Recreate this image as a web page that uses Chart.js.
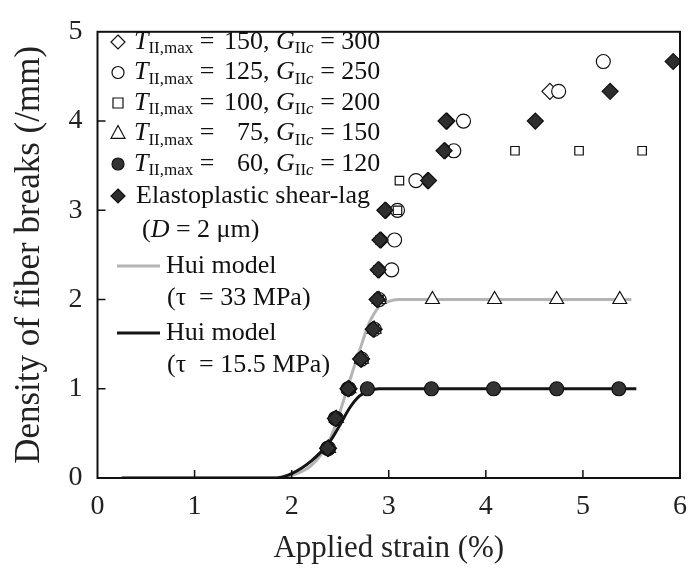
<!DOCTYPE html>
<html>
<head>
<meta charset="utf-8">
<script src="https://cdn.jsdelivr.net/npm/chart.js@4.4.0/dist/chart.umd.min.js"></script>
<style>
  html, body { margin: 0; padding: 0; background: #fff; }
</style>
</head>
<body>
<canvas id="chart" width="699" height="575"></canvas>
<script>
// tick labels
const xTicks = [0, 1, 2, 3, 4, 5, 6];
const yTicks = [0, 1, 2, 3, 4, 5];

// Elastoplastic shear-lag (D = 2 um)
const epStrain = [2.37, 2.45, 2.58, 2.71, 2.84, 2.88, 2.89, 2.91, 2.96, 3.41, 3.57, 3.59, 4.51, 5.28, 5.93];
const epDens   = [0.333, 0.667, 1, 1.333, 1.667, 2, 2.333, 2.667, 3, 3.333, 3.667, 4, 4, 4.333, 4.667];

// T = 150, G = 300 (open diamond)
const t150Strain = [2.38, 2.46, 2.59, 2.72, 2.85, 2.89, 2.9, 2.92, 2.97, 3.4, 3.58, 3.6, 4.66];
const t150Dens   = [0.333, 0.667, 1, 1.333, 1.667, 2, 2.333, 2.667, 3, 3.333, 3.667, 4, 4.333];

// T = 125, G = 250 (open circle)
const t125Strain = [2.38, 2.46, 2.59, 2.72, 2.85, 2.9, 3.03, 3.06, 3.09, 3.28, 3.67, 3.77, 4.75, 5.21];
const t125Dens   = [0.333, 0.667, 1, 1.333, 1.667, 2, 2.333, 2.667, 3, 3.333, 3.667, 4, 4.333, 4.667];

// T = 100, G = 200 (open square)
const t100Strain = [2.38, 2.46, 2.59, 2.72, 2.85, 2.9, 2.89, 2.91, 3.09, 3.11, 3.58, 4.3, 4.96, 5.61];
const t100Dens   = [0.333, 0.667, 1, 1.333, 1.667, 2, 2.333, 2.667, 3, 3.333, 3.667, 3.667, 3.667, 3.667];

// T = 75, G = 150 (open triangle)
const t75Strain = [2.38, 2.46, 2.59, 2.72, 2.85, 2.9, 3.45, 4.09, 4.73, 5.38];
const t75Dens   = [0.333, 0.667, 1, 1.333, 1.667, 2, 2, 2, 2, 2];

// T = 60, G = 120 (filled circle)
const t60Strain = [2.37, 2.45, 2.58, 2.78, 3.44, 4.08, 4.73, 5.37];
const t60Dens   = [0.333, 0.667, 1, 1, 1, 1, 1, 1];

// Hui model curves
const hui33Strain = [0.25, 1.8, 1.9, 2.0, 2.1, 2.2, 2.3, 2.4, 2.5, 2.6, 2.7, 2.8, 2.9, 3.0, 3.1, 3.2, 5.5];
const hui33Dens   = [0, 0, 0.01, 0.03, 0.07, 0.14, 0.26, 0.45, 0.75, 1.1, 1.43, 1.74, 1.92, 1.98, 2.0, 2.0, 2.0];
const hui15Strain = [0.25, 1.8, 1.9, 2.0, 2.1, 2.2, 2.3, 2.4, 2.5, 2.6, 2.7, 2.8, 2.9, 3.0, 5.55];
const hui15Dens   = [0, 0, 0.01, 0.05, 0.11, 0.19, 0.29, 0.42, 0.6, 0.79, 0.92, 0.98, 1.0, 1.0, 1.0];

const FONT = "'Liberation Serif', 'Times New Roman', serif";

function pts(xs, ys) {
    return xs.map((x, i) => ({ x: x, y: ys[i] }));
}

function marker(label, xs, ys, style, fill, radius) {
    return {
        label: label,
        data: pts(xs, ys),
        showLine: false,
        pointStyle: style,
        pointRadius: radius,
        pointBackgroundColor: fill,
        pointBorderColor: '#111',
        pointBorderWidth: 1.2
    };
}

function curve(label, xs, ys, color) {
    return {
        label: label,
        data: pts(xs, ys),
        showLine: true,
        borderColor: color,
        borderWidth: 3,
        pointRadius: 0,
        cubicInterpolationMode: 'monotone'
    };
}

// first dataset is drawn on top
const datasets = [
    marker('Elastoplastic shear-lag', epStrain, epDens, 'rectRot', '#2e2e2e', 8),
    marker('T60', t60Strain, t60Dens, 'circle', '#333', 7),
    marker('T75', t75Strain, t75Dens, 'triangle', '#fff', 8),
    marker('T100', t100Strain, t100Dens, 'rect', '#fff', 6),
    marker('T125', t125Strain, t125Dens, 'circle', '#fff', 7),
    marker('T150', t150Strain, t150Dens, 'rectRot', '#fff', 8),
    curve('Hui 15.5', hui15Strain, hui15Dens, '#151515'),
    curve('Hui 33', hui33Strain, hui33Dens, '#b4b4b4')
];

// box and inward ticks
const framePlugin = {
    id: 'frame',
    afterDraw(chart) {
        const c = chart.ctx, a = chart.chartArea;
        const xs = chart.scales.x, ys = chart.scales.y;
        c.save();
        c.strokeStyle = '#111';
        c.lineWidth = 2;
        c.strokeRect(a.left, a.top, a.right - a.left, a.bottom - a.top);
        c.lineWidth = 1.5;
        c.beginPath();
        xTicks.slice(1, -1).forEach(v => {
            const px = xs.getPixelForValue(v);
            c.moveTo(px, a.bottom); c.lineTo(px, a.bottom - 8);
        });
        yTicks.slice(1, -1).forEach(v => {
            const py = ys.getPixelForValue(v);
            c.moveTo(a.left, py); c.lineTo(a.left + 8, py);
        });
        c.stroke();
        c.restore();
    }
};

function drawMarker(c, style, x, y, r, fill) {
    c.save();
    c.fillStyle = fill;
    c.strokeStyle = '#111';
    c.lineWidth = 1.2;
    c.beginPath();
    if (style === 'circle') {
        c.arc(x, y, r, 0, Math.PI * 2);
    } else if (style === 'rect') {
        c.rect(x - r, y - r, 2 * r, 2 * r);
    } else if (style === 'triangle') {
        c.moveTo(x, y - r); c.lineTo(x + r * 0.87, y + r * 0.6); c.lineTo(x - r * 0.87, y + r * 0.6); c.closePath();
    } else {
        c.moveTo(x, y - r); c.lineTo(x + r, y); c.lineTo(x, y + r); c.lineTo(x - r, y); c.closePath();
    }
    c.fill();
    c.stroke();
    c.restore();
}

// draws pieces of text one after the other; returns end x
function drawRich(c, parts, x, y) {
    parts.forEach(p => {
        const size = p.sub ? 17 : 26;
        c.font = (p.it ? 'italic ' : '') + size + 'px ' + FONT;
        c.fillText(p.t, x, y + (p.sub ? 7 : 0));
        x += c.measureText(p.t).width;
    });
    return x;
}

const legendRows = [
    { style: 'rectRot', fill: '#fff', r: 7, tmax: '150', g: '300' },
    { style: 'circle', fill: '#fff', r: 6, tmax: '125', g: '250' },
    { style: 'rect', fill: '#fff', r: 5, tmax: '100', g: '200' },
    { style: 'triangle', fill: '#fff', r: 8, tmax: '75', g: '150' },
    { style: 'circle', fill: '#333', r: 6, tmax: '60', g: '120' }
];

const legendPlugin = {
    id: 'richLegend',
    afterDraw(chart) {
        const c = chart.ctx;
        c.save();
        c.fillStyle = '#111';
        c.textBaseline = 'middle';
        c.textAlign = 'left';
        legendRows.forEach((row, i) => {
            const y = 42 + i * 30.5;
            drawMarker(c, row.style, 118, y, row.r, row.fill);
            drawRich(c, [{ t: 'T', it: true }, { t: 'II,max', sub: true }, { t: ' = ' }], 134, y);
            c.font = '26px ' + FONT;
            const numRight = 263;
            c.fillText(row.tmax, numRight - c.measureText(row.tmax).width, y);
            drawRich(c, [{ t: ', ' }, { t: 'G', it: true }, { t: 'II', sub: true }, { t: 'c', sub: true, it: true },
                         { t: ' = ' + row.g }], numRight, y);
        });
        drawMarker(c, 'rectRot', 118, 196, 7, '#2e2e2e');
        drawRich(c, [{ t: 'Elastoplastic shear-lag' }], 136, 196);
        drawRich(c, [{ t: '(' }, { t: 'D', it: true }, { t: ' = 2 \u03bcm)' }], 142, 230);

        c.lineWidth = 3;
        c.strokeStyle = '#b4b4b4';
        c.beginPath(); c.moveTo(117, 266); c.lineTo(160, 266); c.stroke();
        drawRich(c, [{ t: 'Hui model' }], 166, 266);
        drawRich(c, [{ t: '(\u03c4  = 33 MPa)' }], 167, 298);

        c.strokeStyle = '#151515';
        c.beginPath(); c.moveTo(117, 333); c.lineTo(160, 333); c.stroke();
        drawRich(c, [{ t: 'Hui model' }], 166, 333);
        drawRich(c, [{ t: '(\u03c4  = 15.5 MPa)' }], 167, 365);
        c.restore();
    }
};

const ctx = document.getElementById('chart');
new Chart(ctx, {
    type: 'scatter',
    data: { datasets: datasets },
    options: {
        responsive: false,
        animation: false,
        layout: { padding: { top: 19, right: 8, left: 0, bottom: 0 } },
        plugins: {
            legend: { display: false },
            tooltip: { enabled: false }
        },
        scales: {
            x: {
                type: 'linear',
                min: 0,
                max: 6,
                afterFit: s => { s.height = 97; },
                afterBuildTicks: s => { s.ticks = xTicks.map(v => ({ value: v })); },
                grid: { display: false, drawTicks: false },
                border: { display: false },
                ticks: { color: '#222', padding: 12, font: { family: FONT, size: 28 } },
                title: {
                    display: true,
                    text: 'Applied strain (%)',
                    color: '#222',
                    padding: 8,
                    font: { family: FONT, size: 31 }
                }
            },
            y: {
                type: 'linear',
                min: 0,
                max: 5,
                afterFit: s => { s.width = 97.5; },
                afterBuildTicks: s => { s.ticks = yTicks.map(v => ({ value: v })); },
                grid: { display: false, drawTicks: false },
                border: { display: false },
                ticks: { color: '#222', padding: 15, font: { family: FONT, size: 28 } },
                title: {
                    display: true,
                    text: 'Density of fiber breaks (/mm)',
                    color: '#222',
                    padding: 9,
                    font: { family: FONT, size: 35 }
                }
            }
        }
    },
    plugins: [framePlugin, legendPlugin]
});
</script>
</body>
</html>
